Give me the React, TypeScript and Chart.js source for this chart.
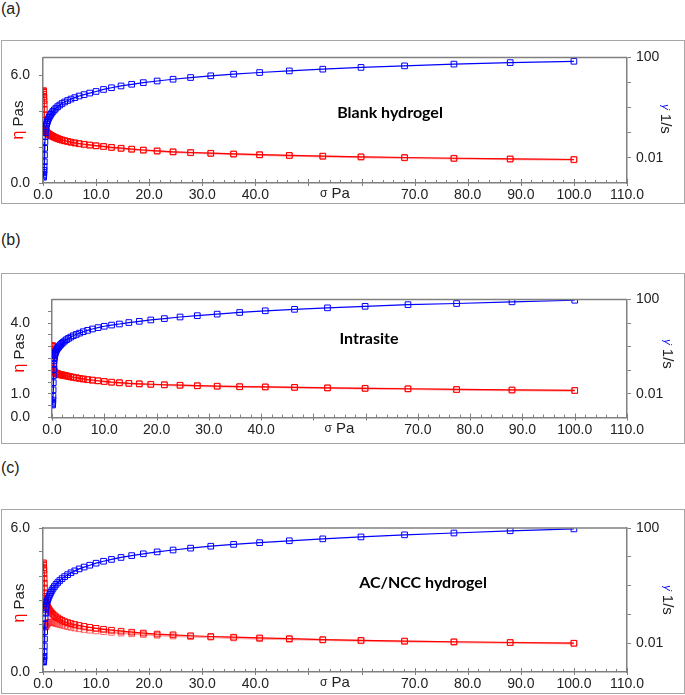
import React, { useEffect, useRef } from 'react';
import { Chart, registerables } from 'chart.js';
Chart.register(...registerables);

// ---- data ----
const stress = [100, 88.0, 77.4, 68.1, 59.9, 52.7, 46.4, 40.8, 35.9, 31.6, 27.8, 24.5, 21.5, 18.9, 16.7, 14.7, 12.9, 11.4, 10.0,
  8.80, 7.74, 6.81, 5.99, 5.27, 4.64, 4.08, 3.59, 3.16, 2.78, 2.45, 2.15, 1.89, 1.67, 1.47, 1.29, 1.14, 1.00,
  0.880, 0.774, 0.681, 0.599, 0.527, 0.464, 0.408, 0.359, 0.316, 0.278, 0.245, 0.215, 0.189, 0.167, 0.147, 0.129, 0.114, 0.100];

const shearRateA = [70, 62, 54, 46, 40, 34, 29, 25, 21.5, 18.5, 15.8, 13.5, 11.5, 9.9, 8.5, 7.3, 6.2, 5.3, 4.4,
  3.8, 3.3, 2.9, 2.5, 2.2, 1.92, 1.68, 1.46, 1.27, 1.1, 0.95, 0.82, 0.71, 0.62, 0.54, 0.47, 0.41, 0.35,
  0.3, 0.26, 0.22, 0.18, 0.14, 0.1, 0.07, 0.043, 0.024, 0.013, 0.007, 0.0045, 0.0032, 0.0026, 0.0022, 0.002, 0.0018, 0.0017];
const viscosityA = [1.31, 1.34, 1.38, 1.42, 1.46, 1.5, 1.54, 1.58, 1.62, 1.66, 1.7, 1.74, 1.79, 1.84, 1.89, 1.94, 1.99, 2.04, 2.08,
  2.12, 2.16, 2.2, 2.24, 2.28, 2.32, 2.36, 2.4, 2.44, 2.48, 2.52, 2.56, 2.6, 2.63, 2.66, 2.69, 2.72, 2.75,
  2.78, 2.81, 2.84, 2.87, 2.9, 2.95, 3.0, 3.2, 3.5, 3.8, 4.1, 4.4, 4.6, 4.8, 4.95, 5.05, 5.1, 5.15];
const viscosityADown = [1.29, 1.33, 1.36, 1.40, 1.44, 1.48, 1.52, 1.56, 1.60, 1.64, 1.68, 1.72, 1.77, 1.82, 1.87, 1.92, 1.97, 2.02, 2.06,
  2.10, 2.14, 2.18, 2.22, 2.26, 2.30, 2.34, 2.38, 2.42, 2.46, 2.50, 2.54, 2.58, 2.61, 2.64, 2.67, 2.70, 2.73,
  2.76, 2.79, 2.82, 2.85, 2.88, 2.92, 2.96];

const shearRateB = [92, 79, 67, 60, 51, 44, 38, 33, 28, 23.8, 20.5, 18, 15.4, 13.5, 11.8, 10.5, 9.1, 8.2, 7.3,
  6.4, 5.6, 4.9, 4.3, 3.75, 3.3, 2.9, 2.55, 2.25, 1.98, 1.75, 1.55, 1.38, 1.23, 1.1, 0.99, 0.9, 0.82,
  0.74, 0.66, 0.58, 0.5, 0.42, 0.34, 0.26, 0.18, 0.11, 0.06, 0.03, 0.015, 0.008, 0.0055, 0.0045, 0.004, 0.0037, 0.0034];
const viscosityB = [1.15, 1.17, 1.19, 1.22, 1.24, 1.26, 1.28, 1.30, 1.31, 1.33, 1.35, 1.37, 1.39, 1.41, 1.43, 1.45, 1.48, 1.5, 1.53,
  1.56, 1.59, 1.61, 1.64, 1.66, 1.69, 1.71, 1.73, 1.75, 1.77, 1.79, 1.8, 1.81, 1.82, 1.83, 1.84, 1.85, 1.86,
  1.87, 1.88, 1.89, 1.9, 1.92, 1.95, 2.0, 2.1, 2.25, 2.4, 2.55, 2.7, 2.8, 2.9, 2.95, 3.0, 3.02, 3.05];
const viscosityBDown = [1.14, 1.16, 1.18, 1.21, 1.23, 1.25, 1.27, 1.29, 1.30, 1.32, 1.34, 1.36, 1.38, 1.40, 1.42, 1.44, 1.46, 1.49, 1.52,
  1.55, 1.57, 1.60, 1.62, 1.65, 1.67, 1.69, 1.71, 1.73, 1.75, 1.77, 1.78, 1.79, 1.80, 1.81, 1.82, 1.83, 1.84,
  1.85, 1.86, 1.87, 1.88, 1.89, 1.91, 1.93];

const shearRateC = [93, 80, 67, 58, 49, 42, 36, 31, 27, 23.3, 20, 17.2, 14.8, 12.7, 11, 9.5, 8.1, 7, 6,
  5.1, 4.4, 3.8, 3.25, 2.8, 2.4, 2.05, 1.75, 1.5, 1.28, 1.1, 0.93, 0.8, 0.68, 0.58, 0.5, 0.43, 0.37,
  0.32, 0.27, 0.23, 0.19, 0.15, 0.11, 0.075, 0.045, 0.025, 0.014, 0.008, 0.005, 0.0035, 0.003, 0.0026, 0.0024, 0.0023, 0.0022];
const viscosityC = [1.2, 1.23, 1.26, 1.29, 1.32, 1.35, 1.39, 1.42, 1.45, 1.48, 1.51, 1.55, 1.58, 1.62, 1.66, 1.7, 1.74, 1.78, 1.82,
  1.86, 1.9, 1.94, 1.98, 2.02, 2.06, 2.1, 2.15, 2.2, 2.25, 2.3, 2.35, 2.4, 2.45, 2.5, 2.55, 2.6, 2.65,
  2.7, 2.75, 2.8, 2.85, 2.9, 2.95, 3.0, 3.15, 3.3, 3.5, 3.7, 3.9, 4.1, 4.25, 4.35, 4.45, 4.5, 4.55];
const viscosityCDown = [1.19, 1.22, 1.24, 1.27, 1.3, 1.33, 1.36, 1.39, 1.42, 1.45, 1.47, 1.5, 1.53, 1.56, 1.59, 1.62, 1.65, 1.68, 1.71,
  1.74, 1.77, 1.8, 1.83, 1.86, 1.89, 1.92, 1.95, 1.98, 2.0, 2.02, 2.04, 2.06, 2.07, 2.08, 2.08, 2.07, 2.05,
  2.02, 1.99, 1.96, 1.93, 1.9, 1.88, 1.87];

const xMajorTicks = [0, 10, 20, 30, 40, 50, 60, 70, 80, 90, 100, 110];
const xTickLabels = ['0.0', '10.0', '20.0', '30.0', '40.0', '', '', '70.0', '80.0', '90.0', '100.0', '110.0'];
const rightTicks = [0.01, 0.1, 1, 10, 100];
const rightTickLabels = ['0.01', '', '', '', '100'];
const leftTicksA = [0, 2, 4, 6];
const leftLabelsA = ['0.0', '', '', '6.0'];
const leftTicksB = [0, 0.5, 1, 1.5, 2, 2.5, 3, 3.5, 4, 4.5];
const leftLabelsB = ['0.0', '', '1.0', '', '', '', '', '', '4.0', ''];
const leftTicksC = [0, 1, 2, 3, 4, 5, 6];
const leftLabelsC = ['0.0', '', '', '', '', '', '6.0'];

// ---- styling ----
const FONT = '"Liberation Sans", Arial, sans-serif';
const AXIS = '#808080';
const TXT = '#222222';
const BLUE = '#0000ff';
const RED = '#ff0000';

type PanelCfg = {
  label: string; labelTop: number;
  name: string; nameX: number; nameY: number;
  boxTop: number; boxBottom: number;
  plotLeft: number; plotTop: number; plotBottom: number;
  leftMax: number; leftTicks: number[]; leftLabels: string[]; leftPad: number;
  blue: number[]; red: number[]; red2: number[];
  leftTitleX: number; leftTitleY: number; rightTitleX: number; rightTitleY: number;
};

const panels: PanelCfg[] = [
  { label: '(a)', labelTop: 0, name: 'Blank hydrogel', nameX: 390, nameY: 113, boxTop: 40, boxBottom: 204,
    plotLeft: 43, plotTop: 55, plotBottom: 183, leftMax: 7, leftTicks: leftTicksA, leftLabels: leftLabelsA, leftPad: 9,
    blue: shearRateA, red: viscosityA, red2: viscosityADown, leftTitleX: 19, leftTitleY: 120, rightTitleX: 665, rightTitleY: 119 },
  { label: '(b)', labelTop: 231, name: 'Intrasite', nameX: 369, nameY: 339, boxTop: 273, boxBottom: 444,
    plotLeft: 52, plotTop: 288, plotBottom: 421, leftMax: 5, leftTicks: leftTicksB, leftLabels: leftLabelsB, leftPad: 18,
    blue: shearRateB, red: viscosityB, red2: viscosityBDown, leftTitleX: 20, leftTitleY: 353, rightTitleX: 667, rightTitleY: 354 },
  { label: '(c)', labelTop: 459, name: 'AC/NCC hydrogel', nameX: 423, nameY: 583, boxTop: 509, boxBottom: 694,
    plotLeft: 43, plotTop: 528, plotBottom: 672, leftMax: 6, leftTicks: leftTicksC, leftLabels: leftLabelsC, leftPad: 9,
    blue: shearRateC, red: viscosityC, red2: viscosityCDown, leftTitleX: 20, leftTitleY: 603, rightTitleX: 667, rightTitleY: 600 },
];

type Part = { text: string; font: string; color: string };
function drawRich(ctx: CanvasRenderingContext2D, parts: Part[], x: number, y: number, angle: number) {
  ctx.save();
  ctx.translate(x, y);
  ctx.rotate(angle);
  ctx.textBaseline = 'middle';
  ctx.textAlign = 'left';
  let total = 0;
  const widths = parts.map(p => { ctx.font = p.font; const w = ctx.measureText(p.text).width; total += w; return w; });
  let cx = -total / 2;
  parts.forEach((p, i) => { ctx.font = p.font; ctx.fillStyle = p.color; ctx.fillText(p.text, cx, 0); cx += widths[i]; });
  ctx.restore();
}

function makePlugin(cfg: PanelCfg) {
  return {
    id: 'panelDecor',
    afterDraw(chart: any) {
      const { ctx, chartArea: ca, scales } = chart;
      const ox = 1, oy = cfg.boxTop;
      ctx.save();
      ctx.strokeStyle = AXIS;
      ctx.lineWidth = 1.5;
      ctx.beginPath(); ctx.moveTo(ca.left, ca.top); ctx.lineTo(ca.right, ca.top); ctx.stroke();
      ctx.lineWidth = 1;
      for (let v = 0; v <= 110; v += 2) {
        const px = Math.round(scales.x.getPixelForValue(v)) + 0.5;
        const major = v % 10 === 0;
        ctx.beginPath();
        ctx.moveTo(px, ca.bottom - (major ? 4 : 3));
        ctx.lineTo(px, ca.bottom + (major ? 3 : 0));
        ctx.stroke();
      }
      ctx.restore();
      drawRich(ctx, [
        { text: 'σ', font: `12px ${FONT}`, color: TXT },
        { text: ' Pa', font: `15px ${FONT}`, color: TXT },
      ], scales.x.getPixelForValue(55), ca.bottom + 11, 0);
      drawRich(ctx, [
        { text: 'η', font: `16px ${FONT}`, color: RED },
        { text: ' Pas', font: `15px ${FONT}`, color: TXT },
      ], cfg.leftTitleX - ox, cfg.leftTitleY - oy, -Math.PI / 2);
      drawRich(ctx, [
        { text: 'γ\u0307', font: `italic 11px ${FONT}`, color: BLUE },
        { text: ' 1/s', font: `15px ${FONT}`, color: TXT },
      ], cfg.rightTitleX - ox, cfg.rightTitleY - oy, Math.PI / 2);
      ctx.save();
      ctx.font = `bold 16px Lato, "Open Sans", sans-serif`;
      ctx.fillStyle = '#000';
      ctx.textAlign = 'center';
      ctx.textBaseline = 'middle';
      ctx.fillText(cfg.name, cfg.nameX - ox, cfg.nameY - oy);
      ctx.restore();
    },
  };
}

function Panel({ cfg }: { cfg: PanelCfg }) {
  const ref = useRef<HTMLCanvasElement>(null);
  const h = cfg.boxBottom - cfg.boxTop;
  useEffect(() => {
    const canvas = ref.current!;
    const pts = (ys: number[]) => ys.map((y, i) => ({ x: stress[i], y }));
    const common = { showLine: true, borderWidth: 1.2, pointStyle: 'rect', pointRadius: 4, pointBorderWidth: 1,
      pointBackgroundColor: 'rgba(255,255,255,0)', tension: 0 };
    const datasets: any[] = [
      { ...common, label: 'shear rate', data: pts(cfg.blue), yAxisID: 'y2', borderColor: BLUE, pointBorderColor: BLUE },
      { ...common, label: 'viscosity', data: pts(cfg.red), yAxisID: 'y', borderColor: RED, pointBorderColor: RED },
      { ...common, label: 'viscosity down', data: pts(cfg.red2), yAxisID: 'y', borderWidth: 2,
        borderColor: 'rgba(255,60,60,0.45)', pointBorderColor: 'rgba(255,40,40,0.7)' },
    ];
    const tickFont = { family: FONT, size: 14 };
    const chart = new Chart(canvas, {
      type: 'scatter',
      data: { datasets },
      options: {
        animation: false,
        responsive: false,
        devicePixelRatio: 1,
        layout: { padding: { top: cfg.plotTop - cfg.boxTop, left: 0, right: 0, bottom: 0 } },
        plugins: { legend: { display: false }, tooltip: { enabled: false } },
        scales: {
          x: {
            type: 'linear', min: 0, max: 110,
            afterBuildTicks: (s: any) => { s.ticks = xMajorTicks.map(v => ({ value: v })); },
            afterFit: (s: any) => { s.height = cfg.boxBottom - cfg.plotBottom; },
            ticks: { autoSkip: false, maxRotation: 0, padding: 4, font: tickFont, color: TXT,
              callback: (v: any) => xTickLabels[xMajorTicks.indexOf(Number(v))] ?? '' },
            grid: { drawOnChartArea: false, drawTicks: false },
            border: { display: true, color: AXIS, width: 1.5 },
          },
          y: {
            type: 'linear', position: 'left', min: 0, max: cfg.leftMax,
            afterBuildTicks: (s: any) => { s.ticks = cfg.leftTicks.map(v => ({ value: v })); },
            afterFit: (s: any) => { s.width = cfg.plotLeft - 1; },
            ticks: { autoSkip: false, padding: cfg.leftPad, font: tickFont, color: TXT,
              callback: (v: any) => cfg.leftLabels[cfg.leftTicks.indexOf(Number(v))] ?? '' },
            grid: { drawOnChartArea: false, drawTicks: true, tickLength: 4, color: AXIS },
            border: { display: true, color: AXIS, width: 1.5 },
          },
          y2: {
            type: 'logarithmic', position: 'right', min: 0.001, max: 100,
            afterBuildTicks: (s: any) => { s.ticks = rightTicks.map(v => ({ value: v })); },
            afterFit: (s: any) => { s.width = 57; },
            ticks: { autoSkip: false, padding: 5, font: tickFont, color: TXT,
              callback: (v: any) => rightTickLabels[rightTicks.indexOf(Number(v))] ?? '' },
            grid: { drawOnChartArea: false, drawTicks: true, tickLength: 4, color: AXIS },
            border: { display: true, color: AXIS, width: 1.5 },
          },
        },
      } as any,
      plugins: [makePlugin(cfg)],
    });
    return () => chart.destroy();
  }, []);
  return (
    <>
      <div style={{ position: 'absolute', left: 1, top: cfg.boxTop, width: 684, height: h, border: '1px solid #a6a6a6', boxSizing: 'border-box' }} />
      <canvas ref={ref} width={683} height={h} style={{ position: 'absolute', left: 1, top: cfg.boxTop, width: 683, height: h }} />
      <div style={{ position: 'absolute', left: 1, top: cfg.labelTop, font: `16px ${FONT}`, color: TXT, lineHeight: '18px' }}>{cfg.label}</div>
    </>
  );
}

export default function App() {
  return (
    <div>
      {panels.map(p => <Panel key={p.label} cfg={p} />)}
    </div>
  );
}
